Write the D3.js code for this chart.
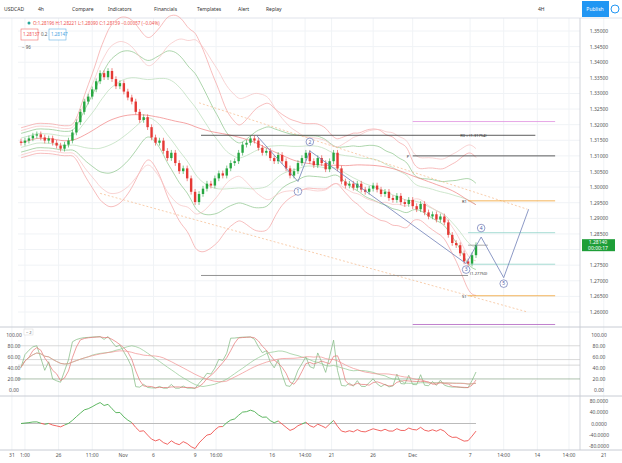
<!DOCTYPE html>
<html><head><meta charset="utf-8">
<script src="https://cdn.jsdelivr.net/npm/d3@7"></script>
<style>body{margin:0;background:#fff;font-family:"Noto Sans",sans-serif}</style>
</head><body><div id="chart"></div>
<script>
var W = 622, H = 463;

// 4h closes, USDCAD
var closes = [1.3142,1.3149,1.3156,1.3165,1.3169,1.3159,1.3149,1.3156,1.3142,1.3133,
  1.3123,1.3136,1.3149,1.3175,1.3208,1.3241,1.3274,1.3290,1.3313,1.3339,
  1.3365,1.3352,1.3372,1.3346,1.3323,1.3333,1.3306,1.3287,1.3274,1.3241,
  1.3215,1.3224,1.3192,1.3159,1.3142,1.3149,1.3116,1.3093,1.3110,1.3077,
  1.3051,1.3060,1.3028,1.2985,1.2952,1.2978,1.2995,1.3011,1.3005,1.3028,
  1.3044,1.3037,1.3060,1.3077,1.3083,1.3110,1.3136,1.3142,1.3156,1.3149,
  1.3126,1.3110,1.3116,1.3093,1.3083,1.3103,1.3083,1.3060,1.3037,1.3051,
  1.3077,1.3093,1.3110,1.3083,1.3070,1.3093,1.3077,1.3057,1.3083,1.3110,
  1.3060,1.3018,1.3005,1.3011,1.2998,1.3011,1.2992,1.2985,1.2995,1.3005,
  1.2992,1.2978,1.2985,1.2965,1.2959,1.2972,1.2952,1.2946,1.2959,1.2939,
  1.2929,1.2946,1.2919,1.2906,1.2913,1.2896,1.2906,1.2887,1.2847,1.2821,
  1.2814,1.2788,1.2762,1.2755,1.2782,1.2814];
var wick = 0.0009;
var priceTicks = d3.range(0, 19).map(function(i){ return +(1.35 - i*0.005).toFixed(3); });
var timeLabels = [["31",-2.3],["1:00",1],["26",9.5],["11:00",18],["Nov",25.8],["6",33.5],["9",44],["16:00",49.3],
  ["16",63.5],["14:00",71.8],["21",78.5],["26",89],["Dec",99],["7",113.5],["14:00",122],["14",130.5],["14:00",138.5],["21",147.3]];
var oscTicks = [100,80,60,40,20,0];
var oscLevels = [80,55,45,20];
var momTicks = [80,40,0,-40,-80];
// drawn objects: [label, price, fromIndex, toIndex, colour]
var levels = [["R0 = (1.31754)",1.3166,45.5,130,"#333"],["P",1.3100,99,135,"#333"],["R1",1.2956,113,135,"#f0a030"],
  ["",1.2854,113,135,"#8fd3c8"],["",1.2814,113,118,"#999"],["",1.2753,113,135,"#8fd3c8"],
  ["(1.27750)",1.2717,45.5,113,"#777"],["S1",1.2652,113,135,"#f0a030"],["",1.2560,99,135,"#b060c0"],["",1.3210,99,135,"#e090e0"]];
var wave = [[59.5,1.3166,""],[70,1.3018,"1"],[73,1.3116,"2"],[112.5,1.2755,"3"],[116.3,1.2840,"4"],[122,1.2710,"5"],[128.3,1.2929,""]];
var channels = [[[45,1.3270],[128,1.2929]],[[20,1.2980],[128,1.2600]]];

var x = d3.scaleLinear().domain([0, 115]).range([21, 476]);
var y = d3.scaleLinear().domain([1.26, 1.35]).range([312, 31]);
var yo = d3.scaleLinear().domain([0, 100]).range([390, 334.7]);
var ym = d3.scaleLinear().domain([-80, 80]).range([446, 401]);

var svg = d3.select("#chart").append("svg").attr("width", W).attr("height", H)
  .style("font-family", "Noto Sans").style("font-size", "5px");

var ohlc = closes.map(function(c, i){
  var o = i ? closes[i-1] : c + 0.0004;
  return {i:i, o:o, c:c, h:Math.max(o,c)+wick, l:Math.min(o,c)-wick};
});
function sma(arr, n, i){ var s = arr.slice(Math.max(0,i-n+1), i+1); return d3.mean(s); }
function sd(arr, n, i){ var s = arr.slice(Math.max(0,i-n+1), i+1); return s.length > 1 ? d3.deviation(s) : 0.001; }

// grid
svg.append("g").selectAll("line").data(timeLabels).join("line")
  .attr("x1", d=>x(d[1])).attr("x2", d=>x(d[1])).attr("y1", 18).attr("y2", 450).attr("stroke", "#f0f3f6");
svg.append("g").selectAll("line").data(priceTicks).join("line")
  .attr("x1", 18).attr("x2", 580).attr("y1", d=>y(d)).attr("y2", d=>y(d)).attr("stroke", "#f0f3f6");

// toolbar
svg.append("rect").attr("width", W).attr("height", 18).attr("fill", "#fff");
svg.append("line").attr("x1",0).attr("x2",W).attr("y1",18).attr("y2",18).attr("stroke","#e0e3eb");
[["USDCAD",4],["4h",38],["Compare",72],["Indicators",108],["Financials",154],["Templates",197],["Alert",238],["Replay",266]]
  .forEach(function(t){ svg.append("text").attr("x", t[1]).attr("y", 11).attr("fill", "#333").text(t[0]); });
svg.append("text").attr("x",538).attr("y",11).attr("fill","#333").text("4H");
svg.append("rect").attr("x",582).attr("y",1).attr("width",27).attr("height",16).attr("fill","#2196f3");
svg.append("text").attr("x",595).attr("y",11).attr("text-anchor","middle").attr("fill","#fff").text("Publish");
svg.append("circle").attr("cx",615).attr("cy",9).attr("r",4).attr("fill","none").attr("stroke","#2196f3");

// legend
svg.append("circle").attr("cx",29).attr("cy",23).attr("r",1.5).attr("fill","#26a69a");
svg.append("text").attr("x",33).attr("y",25).attr("fill","#ef5350").style("font-size","4.5px")
  .text("O:1.28196  H:1.28221  L:1.28090  C:1.28139  −0.00057 (−0.04%)");
svg.append("rect").attr("x",21).attr("y",29).attr("width",17).attr("height",11).attr("fill","#fff").attr("stroke","#ef5350").attr("stroke-width",0.5);
svg.append("text").attr("x",23).attr("y",36).attr("fill","#ef5350").style("font-size","4.5px").text("1.28137");
svg.append("text").attr("x",41).attr("y",36).attr("fill","#555").style("font-size","4.5px").text("0.2");
svg.append("rect").attr("x",49).attr("y",29).attr("width",17).attr("height",11).attr("fill","#fff").attr("stroke","#4aa3df").attr("stroke-width",0.5);
svg.append("text").attr("x",51).attr("y",36).attr("fill","#4aa3df").style("font-size","4.5px").text("1.28147");
svg.append("text").attr("x",22).attr("y",49).attr("fill","#555").style("font-size","4.5px").text("− 96");

// bands
var mid = closes.map((c,i)=>sma(closes,20,i));
var dev = closes.map((c,i)=>sd(closes,20,i));
var mid50 = closes.map((c,i)=>sma(closes,40,i));
var bandDefs = [[mid,dev,2,"#8bc48a"],[mid,dev,-2,"#8bc48a"],[mid,dev,1,"#b9dcb8"],[mid,dev,-1,"#b9dcb8"],
  [mid,dev,3.2,"#f3a0a0"],[mid,dev,-3.2,"#f3a0a0"],[mid50,dev,2.6,"#f6c2c2"],[mid50,dev,-2.6,"#f6c2c2"],[mid50,dev,0,"#f08080"]];
var bl = d3.line().curve(d3.curveBasis).x((d,i)=>x(i)).y(d=>y(d));
bandDefs.forEach(function(b){
  svg.append("path").attr("d", bl(b[0].map((m,i)=>m + b[2]*Math.max(b[1][i],0.0015))))
    .attr("fill","none").attr("stroke",b[3]).attr("stroke-width",0.7);
});
channels.forEach(function(c){
  svg.append("line").attr("x1",x(c[0][0])).attr("y1",y(c[0][1])).attr("x2",x(c[1][0])).attr("y2",y(c[1][1]))
    .attr("stroke","#f5b98a").attr("stroke-width",0.7).attr("stroke-dasharray","2,2");
});

// levels
levels.forEach(function(l){
  svg.append("line").attr("x1",x(l[2])).attr("x2",x(l[3])).attr("y1",y(l[1])).attr("y2",y(l[1]))
    .attr("stroke",l[4]).attr("stroke-width",0.8);
  if (l[0]) svg.append("text").attr("x", l[0]=="(1.27750)" ? x(l[3])+2 : (l[0][0]=="R" && l[0].length>3 ? x(111) : x(l[2])-6))
    .attr("y", y(l[1])+ (l[0]=="(1.27750)"?0:2)).attr("fill","#333").style("font-size","4px").text(l[0]);
});

// candles
var cw = 2.4;
var cg = svg.append("g").selectAll("g").data(ohlc).join("g");
cg.append("line").attr("x1",d=>x(d.i)).attr("x2",d=>x(d.i)).attr("y1",d=>y(d.h)).attr("y2",d=>y(d.l))
  .attr("stroke",d=>d.c>=d.o?"#26a640":"#e53935").attr("stroke-width",0.6);
cg.append("rect").attr("x",d=>x(d.i)-cw/2).attr("width",cw)
  .attr("y",d=>y(Math.max(d.o,d.c))).attr("height",d=>Math.max(0.8,Math.abs(y(d.o)-y(d.c))))
  .attr("fill",d=>d.c>=d.o?"#26a640":"#e53935");

// wave
svg.append("path").attr("d", d3.line().x(d=>x(d[0])).y(d=>y(d[1]))(wave))
  .attr("fill","none").attr("stroke","#7080b8").attr("stroke-width",0.8);
var lblOff = {"1":10,"2":-9,"3":6,"4":-9,"5":6};
wave.filter(d=>d[2]).forEach(function(d){
  var cy = y(d[1]) + lblOff[d[2]];
  svg.append("circle").attr("cx",x(d[0])).attr("cy",cy).attr("r",3.8).attr("fill","#fff").attr("stroke","#5060a8").attr("stroke-width",0.6);
  svg.append("text").attr("x",x(d[0])).attr("y",cy+1.8).attr("text-anchor","middle").attr("fill","#5060a8").text(d[2]);
});

// right price axis
var last = closes[closes.length-1];
svg.append("line").attr("x1",580).attr("x2",580).attr("y1",18).attr("y2",450).attr("stroke","#d0d3da");
svg.append("g").selectAll("text").data(priceTicks.filter(d=>Math.abs(y(d)-y(last))>8)).join("text")
  .attr("x",599).attr("y",d=>y(d)+2).attr("text-anchor","middle").attr("fill","#555").text(d=>d.toFixed(5));
svg.append("rect").attr("x",582).attr("y",y(last)-6).attr("width",33).attr("height",12).attr("fill","#1e9e38");
svg.append("text").attr("x",598).attr("y",y(last)-1).attr("text-anchor","middle").attr("fill","#fff").text(last.toFixed(5));
svg.append("text").attr("x",598).attr("y",y(last)+4.5).attr("text-anchor","middle").attr("fill","#fff").text("00:00:17");

// pane separators
[327,396,450].forEach(v=>svg.append("line").attr("x1",0).attr("x2",W).attr("y1",v).attr("y2",v).attr("stroke","#c8ccd4"));

// stochastic pane
var hh = ohlc.map((d,i)=>d3.max(ohlc.slice(Math.max(0,i-13),i+1),e=>e.h));
var ll = ohlc.map((d,i)=>d3.min(ohlc.slice(Math.max(0,i-13),i+1),e=>e.l));
var k = closes.map((c,i)=>100*(c-ll[i])/(hh[i]-ll[i]));
var kd = k.map((v,i)=>sma(k,3,i));
var slowA = k.map((v,i)=>sma(k,18,i)), slowB = k.map((v,i)=>sma(k,24,i));
oscLevels.forEach(v=>svg.append("line").attr("x1",18).attr("x2",580).attr("y1",yo(v)).attr("y2",yo(v))
  .attr("stroke", v==20?"#8aa88a":"#c8c8c8").attr("stroke-width",0.7));
var ol = d3.line().x((d,i)=>x(i)).y(d=>yo(d));
[[k,"#7cb87c"],[kd,"#e57373"],[slowA,"#90c890"],[slowB,"#f08f8f"]].forEach(function(s){
  svg.append("path").attr("d", ol(s[0])).attr("fill","none").attr("stroke",s[1]).attr("stroke-width",0.7);
});
svg.append("g").selectAll("text").data(oscTicks).join("text").attr("x",14).attr("y",d=>yo(d)+2)
  .attr("text-anchor","middle").attr("fill","#555").text(d=>d.toFixed(2));
svg.append("g").selectAll("text").data(oscTicks).join("text").attr("x",599).attr("y",d=>yo(d)+2)
  .attr("text-anchor","middle").attr("fill","#555").text(d=>d.toFixed(2));
svg.append("rect").attr("x",24).attr("y",329).attr("width",9).attr("height",6).attr("fill","#fff").attr("stroke","#ccc").attr("stroke-width",0.4);
svg.append("text").attr("x",26).attr("y",333.5).attr("fill","#555").style("font-size","4px").text("− 2");

// momentum pane
var mom = closes.map((c,i)=>(c-mid[i])*4500);
svg.append("line").attr("x1",x(0)).attr("x2",x(115)).attr("y1",ym(0)).attr("y2",ym(0)).attr("stroke","#bbb").attr("stroke-width",1);
var ml = d3.line().x(d=>x(d.i)).y(d=>ym(d.v));
for (var i = 1; i < mom.length; i++) {
  svg.append("path").attr("d", ml([{i:i-1,v:mom[i-1]},{i:i,v:mom[i]}]))
    .attr("stroke", mom[i] >= 0 ? "#4caf50" : "#ef5350").attr("stroke-width",0.9).attr("fill","none");
}
svg.append("g").selectAll("text").data(momTicks).join("text").attr("x",599).attr("y",d=>ym(d)+2)
  .attr("text-anchor","middle").attr("fill","#555").text(d=>d.toFixed(4));

// time axis
svg.append("g").selectAll("text").data(timeLabels).join("text").attr("x",d=>x(d[1])).attr("y",457)
  .attr("text-anchor","middle").attr("fill","#555").text(d=>d[0]);
</script></body></html>
